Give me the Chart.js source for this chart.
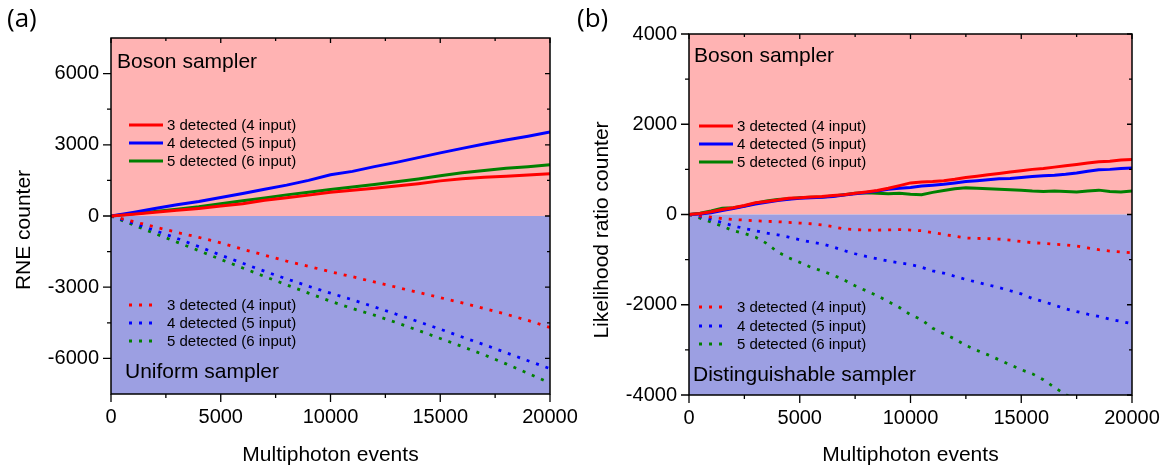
<!DOCTYPE html>
<html>
<head>
<meta charset="utf-8">
<script src="https://cdn.jsdelivr.net/npm/chart.js@4.4.1/dist/chart.umd.min.js"></script>
<style>
    html, body { margin: 0; padding: 0; background: #fff; }
    #wrap { position: relative; width: 1170px; height: 470px; overflow: hidden; }
    canvas { position: absolute; top: 0; }
    #chart-a { left: 0; }
    #chart-b { left: 570px; }
</style>
</head>
<body>
<div id="wrap">
    <canvas id="chart-a" width="590" height="470"></canvas>
    <canvas id="chart-b" width="600" height="470"></canvas>
</div>
<script>
// Panel (a): RNE counter, panel (b): likelihood ratio counter

const seriesNames = ['3 detected (4 input)', '4 detected (5 input)', '5 detected (6 input)'];

const eventsA = [0, 1000, 2000, 3000, 4000, 5000, 6000, 7000, 8000, 9000, 10000,
    11000, 12000, 13000, 14000, 15000, 16000, 17000, 18000, 19000, 20000];

const rneBoson3 = [0, 70, 160, 240, 320, 420, 520, 660, 770, 880, 1000, 1080, 1170, 1260, 1360, 1480, 1570, 1630, 1680, 1730, 1780];
const rneBoson4 = [0, 150, 320, 470, 610, 780, 950, 1130, 1300, 1500, 1740, 1880, 2080, 2260, 2460, 2660, 2850, 3030, 3200, 3360, 3540];
const rneBoson5 = [0, 90, 190, 290, 390, 520, 640, 760, 890, 1000, 1120, 1220, 1330, 1440, 1560, 1700, 1820, 1920, 2010, 2080, 2160];

const rneUniform3 = [0, -230, -460, -690, -900, -1130, -1400, -1650, -1900, -2120, -2350, -2560, -2780, -3000, -3220, -3440, -3660, -3900, -4140, -4400, -4700];
const rneUniform4 = [0, -300, -610, -940, -1290, -1650, -1990, -2330, -2650, -2960, -3250, -3530, -3830, -4140, -4450, -4770, -5100, -5420, -5760, -6100, -6430];
const rneUniform5 = [0, -370, -740, -1100, -1460, -1830, -2190, -2550, -2900, -3250, -3590, -3900, -4180, -4490, -4820, -5160, -5500, -5850, -6230, -6630, -7040];

const eventsB = [0, 500, 1000, 1500, 2000, 2500, 3000, 3500, 4000, 4500, 5000,
    5500, 6000, 6500, 7000, 7500, 8000, 8500, 9000, 9500, 10000,
    10500, 11000, 11500, 12000, 12500, 13000, 13500, 14000, 14500, 15000,
    15500, 16000, 16500, 17000, 17500, 18000, 18500, 19000, 19500, 20000];

const lrBoson3 = [0, 20, 60, 110, 150, 200, 260, 290, 320, 360, 370, 390, 400, 420, 440, 470, 500, 530, 580, 640, 700,
    720, 730, 750, 780, 820, 850, 880, 910, 940, 970, 1000, 1020, 1050, 1080, 1110, 1140, 1170, 1180, 1210, 1220];
const lrBoson4 = [0, 10, 40, 90, 130, 180, 230, 270, 310, 340, 360, 370, 380, 400, 430, 460, 490, 520, 560, 580, 600,
    630, 650, 670, 700, 730, 750, 770, 790, 800, 820, 840, 860, 870, 890, 920, 960, 990, 1000, 1020, 1030];
const lrBoson5 = [0, 30, 80, 140, 150, 190, 250, 300, 330, 350, 370, 380, 390, 410, 440, 470, 480, 470, 460, 470, 450,
    440, 490, 530, 570, 590, 580, 570, 560, 550, 540, 520, 510, 520, 510, 500, 520, 540, 510, 500, 520];

const lrDist3 = [0, -30, -60, -90, -110, -125, -140, -150, -160, -175, -190, -205, -230, -270, -320, -335, -345, -345, -340, -335, -345,
    -360, -400, -440, -480, -520, -530, -535, -545, -570, -600, -625, -640, -660, -675, -700, -740, -780, -810, -830, -850];
const lrDist4 = [0, -50, -110, -180, -250, -310, -360, -410, -450, -500, -560, -610, -650, -720, -800, -870, -930, -980, -1030, -1070, -1110,
    -1170, -1250, -1300, -1370, -1440, -1500, -1560, -1620, -1690, -1760, -1860, -1930, -2010, -2090, -2150, -2210, -2260, -2320, -2370, -2420];
const lrDist5 = [0, -80, -170, -260, -360, -420, -500, -640, -830, -960, -1060, -1170, -1250, -1340, -1450, -1580, -1690, -1800, -1930, -2060, -2220,
    -2330, -2520, -2640, -2760, -2900, -3010, -3110, -3220, -3330, -3440, -3530, -3660, -3830, -3990, -4110, -4230, -4350, -4470, -4590, -4710];

const xTicks = [0, 5000, 10000, 15000, 20000];
const xMinorTicks = [2500, 7500, 12500, 17500];
const yTicksA = [-6000, -3000, 0, 3000, 6000];
const yMinorTicksA = [-4500, -1500, 1500, 4500];
const yTicksB = [-4000, -2000, 0, 2000, 4000];
const yMinorTicksB = [-3000, -1000, 1000, 3000];

const COLORS = ['#ff0000', '#0000ff', '#008000'];
const PINK = '#ffb3b3';
const LAVENDER = '#9c9fe2';
const SANS = '"Liberation Sans", Arial, sans-serif';
const DOT_DASH = [3, 7];

function makeSet(label, xs, ys, color, dotted) {
    return {
        label: label,
        data: xs.map((x, i) => ({ x: x, y: ys[i] })),
        borderColor: color,
        backgroundColor: color,
        borderWidth: dotted ? 2.8 : 3,
        borderDash: dotted ? DOT_DASH : [],
        borderCapStyle: 'butt',
        pointRadius: 0,
        tension: 0,
        fill: false,
        clip: 0
    };
}

// background halves, frame with mirrored ticks, legends and labels
const panelDecor = {
    id: 'panelDecor',
    beforeDatasetsDraw(chart, args, opts) {
        const { ctx, chartArea: a, scales: { y } } = chart;
        const zero = y.getPixelForValue(0);
        ctx.save();
        ctx.fillStyle = PINK;
        ctx.fillRect(a.left, a.top, a.right - a.left, zero - a.top);
        ctx.fillStyle = LAVENDER;
        ctx.fillRect(a.left, zero, a.right - a.left, a.bottom - zero);
        ctx.fillStyle = '#000';
        ctx.font = '21px ' + SANS;
        ctx.textAlign = 'left';
        ctx.textBaseline = 'alphabetic';
        opts.regions.forEach(r => ctx.fillText(r.text, r.x, r.y));
        ctx.restore();
    },
    afterDraw(chart, args, opts) {
        const { ctx, chartArea: a, scales: { x, y } } = chart;
        ctx.save();

        // frame
        ctx.strokeStyle = '#000';
        ctx.lineWidth = 1.5;
        ctx.strokeRect(a.left, a.top, a.right - a.left, a.bottom - a.top);

        // ticks: outward on left/bottom, inward on top/right
        ctx.lineWidth = 1.3;
        ctx.beginPath();
        const xt = (v, out, inn) => {
            const px = x.getPixelForValue(v);
            ctx.moveTo(px, a.bottom); ctx.lineTo(px, a.bottom + out);
            ctx.moveTo(px, a.top); ctx.lineTo(px, a.top + inn);
        };
        const yt = (v, out, inn) => {
            const py = y.getPixelForValue(v);
            ctx.moveTo(a.left, py); ctx.lineTo(a.left - out, py);
            ctx.moveTo(a.right, py); ctx.lineTo(a.right - inn, py);
        };
        xTicks.forEach(v => xt(v, 8, 5));
        xMinorTicks.forEach(v => xt(v, 4, 3));
        opts.yMajor.forEach(v => yt(v, 8, 5));
        opts.yMinor.forEach(v => yt(v, 4, 3));
        ctx.stroke();

        // legends
        ctx.font = '15px ' + SANS;
        ctx.textAlign = 'left';
        ctx.textBaseline = 'alphabetic';
        opts.legends.forEach(lg => {
            lg.rows.forEach((rowY, i) => {
                ctx.strokeStyle = COLORS[i];
                ctx.lineWidth = lg.dotted ? 2.8 : 3;
                ctx.setLineDash(lg.dotted ? DOT_DASH : []);
                ctx.beginPath();
                ctx.moveTo(lg.x1, rowY);
                ctx.lineTo(lg.dotted ? lg.x2 - 6 : lg.x2, rowY);
                ctx.stroke();
                ctx.setLineDash([]);
                ctx.fillStyle = '#000';
                ctx.fillText(seriesNames[i], lg.textX, rowY + 5);
            });
        });

        // y title
        ctx.fillStyle = '#000';
        ctx.font = '21px ' + SANS;
        ctx.textAlign = 'center';
        ctx.textBaseline = 'middle';
        ctx.save();
        ctx.translate(opts.yTitle.x, opts.yTitle.y);
        ctx.rotate(-Math.PI / 2);
        ctx.fillText(opts.yTitle.text, 0, 0);
        ctx.restore();

        // panel label
        ctx.font = '26px "Open Sans", sans-serif';
        ctx.textAlign = 'left';
        ctx.fillText(opts.tag.text, opts.tag.x, opts.tag.y);

        ctx.restore();
    }
};

function buildOptions(cfg) {
    return {
        responsive: false,
        animation: false,
        events: [],
        layout: { padding: { left: 0, top: cfg.top, right: cfg.right, bottom: 0 } },
        scales: {
            x: {
                type: 'linear',
                min: 0,
                max: 20000,
                afterBuildTicks: s => { s.ticks = xTicks.map(v => ({ value: v })); },
                afterFit: s => { s.height = cfg.xHeight; s.paddingLeft = 0; s.paddingRight = 0; },
                grid: { display: false, drawTicks: false },
                border: { display: false },
                ticks: {
                    color: '#000',
                    font: { family: SANS, size: 20 },
                    padding: 11,
                    maxRotation: 0,
                    autoSkip: false,
                    callback: v => String(v)
                },
                title: {
                    display: true,
                    text: 'Multiphoton events',
                    color: '#000',
                    font: { family: SANS, size: 21 },
                    padding: { top: 0, bottom: 2 }
                }
            },
            y: {
                type: 'linear',
                min: cfg.yMin,
                max: cfg.yMax,
                afterBuildTicks: s => { s.ticks = cfg.yMajor.map(v => ({ value: v })); },
                afterFit: s => { s.width = cfg.yWidth; s.paddingTop = 0; s.paddingBottom = 0; },
                grid: { display: false, drawTicks: false },
                border: { display: false },
                ticks: {
                    color: '#000',
                    font: { family: SANS, size: 20 },
                    padding: 12,
                    autoSkip: false,
                    callback: v => String(v)
                }
            }
        },
        plugins: {
            legend: { display: false },
            tooltip: { enabled: false },
            panelDecor: {
                yMajor: cfg.yMajor,
                yMinor: cfg.yMinor,
                regions: cfg.regions,
                legends: cfg.legends,
                yTitle: cfg.yTitle,
                tag: cfg.tag
            }
        }
    };
}

new Chart(document.getElementById('chart-a'), {
    type: 'line',
    data: {
        datasets: [
            makeSet(seriesNames[0], eventsA, rneBoson3, COLORS[0], false),
            makeSet(seriesNames[1], eventsA, rneBoson4, COLORS[1], false),
            makeSet(seriesNames[2], eventsA, rneBoson5, COLORS[2], false),
            makeSet(seriesNames[0], eventsA, rneUniform3, COLORS[0], true),
            makeSet(seriesNames[1], eventsA, rneUniform4, COLORS[1], true),
            makeSet(seriesNames[2], eventsA, rneUniform5, COLORS[2], true)
        ]
    },
    options: buildOptions({
        top: 38, right: 40, xHeight: 76, yWidth: 111,
        yMin: -7500, yMax: 7500,
        yMajor: yTicksA, yMinor: yMinorTicksA,
        regions: [
            { text: 'Boson sampler', x: 117, y: 68 },
            { text: 'Uniform sampler', x: 125, y: 378 }
        ],
        legends: [
            { dotted: false, x1: 129, x2: 163, textX: 167, rows: [125, 143, 161] },
            { dotted: true, x1: 129, x2: 162, textX: 167, rows: [305, 323, 341] }
        ],
        yTitle: { text: 'RNE counter', x: 24, y: 230 },
        tag: { text: '(a)', x: 7, y: 20 }
    }),
    plugins: [panelDecor]
});

new Chart(document.getElementById('chart-b'), {
    type: 'line',
    data: {
        datasets: [
            makeSet(seriesNames[0], eventsB, lrBoson3, COLORS[0], false),
            makeSet(seriesNames[1], eventsB, lrBoson4, COLORS[1], false),
            makeSet(seriesNames[2], eventsB, lrBoson5, COLORS[2], false),
            makeSet(seriesNames[0], eventsB, lrDist3, COLORS[0], true),
            makeSet(seriesNames[1], eventsB, lrDist4, COLORS[1], true),
            makeSet(seriesNames[2], eventsB, lrDist5, COLORS[2], true)
        ]
    },
    options: buildOptions({
        top: 34, right: 38, xHeight: 75, yWidth: 119,
        yMin: -4000, yMax: 4000,
        yMajor: yTicksB, yMinor: yMinorTicksB,
        regions: [
            { text: 'Boson sampler', x: 124, y: 62 },
            { text: 'Distinguishable sampler', x: 123, y: 381 }
        ],
        legends: [
            { dotted: false, x1: 129, x2: 163, textX: 167, rows: [126, 144, 162] },
            { dotted: true, x1: 129, x2: 162, textX: 167, rows: [307, 326, 344] }
        ],
        yTitle: { text: 'Likelihood ratio counter', x: 32, y: 230 },
        tag: { text: '(b)', x: 7, y: 20 }
    }),
    plugins: [panelDecor]
});
</script>
</body>
</html>
